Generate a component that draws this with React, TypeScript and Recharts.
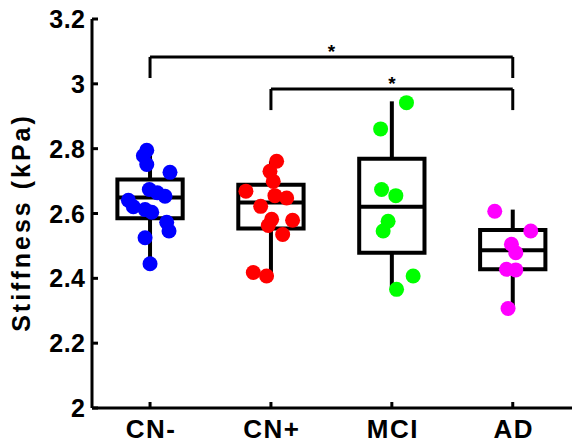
import React from 'react';
import {
  ComposedChart,
  Scatter,
  XAxis,
  YAxis,
  ReferenceArea,
  ReferenceLine,
  ReferenceDot,
} from 'recharts';

const groups = ['CN-', 'CN+', 'MCI', 'AD'];
const colors = ['#0000ff', '#ff0000', '#00ff00', '#ff00ff'];
const yTicks = [2, 2.2, 2.4, 2.6, 2.8, 3, 3.2];

// stiffness (kPa) per subject, with the horizontal jitter used in the figure
const cnMinus = [2.795, 2.778, 2.751, 2.727, 2.674, 2.664, 2.653, 2.641, 2.621, 2.612, 2.604, 2.573, 2.546, 2.525, 2.445];
const cnMinusJitter = [-0.027, -0.055, -0.027, 0.165, -0.006, 0.06, 0.124, -0.179, -0.138, -0.041, 0.014, 0.138, 0.157, -0.041, 0];
const cnPlus = [2.761, 2.73, 2.699, 2.669, 2.655, 2.648, 2.622, 2.582, 2.579, 2.563, 2.535, 2.418, 2.407];
const cnPlusJitter = [0.047, -0.008, 0.019, -0.207, 0.033, 0.13, -0.085, 0.006, 0.179, -0.022, 0.097, -0.146, -0.036];
const mci = [2.942, 2.861, 2.674, 2.655, 2.576, 2.546, 2.407, 2.366];
const mciJitter = [0.121, -0.093, -0.085, 0.033, -0.031, -0.072, 0.176, 0.039];
const ad = [2.607, 2.546, 2.505, 2.479, 2.428, 2.426, 2.307];
const adJitter = [-0.149, 0.149, -0.011, 0.025, -0.052, 0.025, -0.039];

// box plot summary
const q1 = [2.585, 2.554, 2.479, 2.428];
const median = [2.649, 2.634, 2.621, 2.487];
const q3 = [2.705, 2.689, 2.769, 2.549];
const whiskerLow = [2.445, 2.407, 2.366, 2.307];
const whiskerHigh = [2.795, 2.761, 2.946, 2.612];

// significance brackets: group indices, bar level, end level, star level
const bracketFrom = [1, 2];
const bracketTo = [4, 4];
const bracketTop = [3.083, 2.984];
const bracketEnd = [3.018, 2.919];
const starLevel = [3.1, 3.003];

const values = [cnMinus, cnPlus, mci, ad];
const jitters = [cnMinusJitter, cnPlusJitter, mciJitter, adJitter];

const FONT = '"Liberation Sans", Arial, Helvetica, sans-serif';
const HALF = 0.27;

const LeftTick = ({ x, y, payload }: any) => (
  <g>
    <line x1={x + 7} x2={x + 13} y1={y} y2={y} stroke="#000" strokeWidth={3} />
    <text x={x} y={y} dx={0.5} dy={9} textAnchor="end" fontFamily={FONT} fontWeight="bold" fontSize={25} letterSpacing={0.5} fill="#000">
      {payload.value}
    </text>
  </g>
);

const BottomTick = ({ x, y, payload }: any) => (
  <g>
    <line x1={x} x2={x} y1={y} y2={y - 6} stroke="#000" strokeWidth={3} />
    <text x={x} y={y + 30} dx={1} textAnchor="middle" fontFamily={FONT} fontWeight="bold" fontSize={26} letterSpacing={1.5} fill="#000">
      {groups[payload.value - 1]}
    </text>
  </g>
);

const TopTick = ({ x, y }: any) => (
  <line x1={x} x2={x} y1={y} y2={y + 6} stroke="#000" strokeWidth={3} />
);

const RightTick = ({ x, y }: any) => (
  <line x1={x} x2={x - 6} y1={y} y2={y} stroke="#000" strokeWidth={3} />
);

const Dot = (color: string) => (props: any) => (
  <circle cx={props.cx} cy={props.cy} r={7.5} fill={color} />
);

export default function App() {
  const series = values.map((vals, g) =>
    vals.map((v, i) => ({ x: g + 1 + jitters[g][i], y: v }))
  );

  return (
    <div style={{ position: 'absolute', left: 0, top: 0, background: '#fff' }}>
      <ComposedChart width={574} height={443} margin={{ top: 19, right: 2, bottom: 0, left: 0 }}>
        <XAxis
          dataKey="x"
          type="number"
          domain={[0.52, 4.49]}
          ticks={[1, 2, 3, 4]}
          allowDataOverflow
          height={35}
          tickSize={0}
          tickMargin={0}
          tickLine={false}
          axisLine={{ stroke: '#000', strokeWidth: 3 }}
          tick={<BottomTick />}
        />
        <XAxis
          xAxisId="top"
          orientation="top"
          type="number"
          domain={[0.52, 4.49]}
          ticks={[1, 2, 3, 4]}
          allowDataOverflow
          height={0}
          tickSize={0}
          tickMargin={0}
          tickLine={false}
          axisLine={{ stroke: '#000', strokeWidth: 3 }}
          tick={<TopTick />}
        />
        <YAxis
          dataKey="y"
          type="number"
          domain={[2, 3.2]}
          ticks={yTicks}
          allowDataOverflow
          width={92}
          tickSize={0}
          tickMargin={7}
          tickLine={false}
          axisLine={{ stroke: '#000', strokeWidth: 3 }}
          tick={<LeftTick />}
          label={{
            value: 'Stiffness (kPa)',
            angle: -90,
            position: 'center',
            dx: -25,
            dy: 9,
            fill: '#000',
            fontFamily: FONT,
            fontWeight: 'bold',
            fontSize: 25,
            letterSpacing: 3,
          }}
        />
        <YAxis
          yAxisId="right"
          orientation="right"
          type="number"
          domain={[2, 3.2]}
          ticks={yTicks}
          allowDataOverflow
          width={0}
          tickSize={0}
          tickMargin={0}
          tickLine={false}
          axisLine={{ stroke: '#000', strokeWidth: 3 }}
          tick={<RightTick />}
        />

        {groups.map((g, i) => (
          <ReferenceArea
            key={`box-${g}`}
            x1={i + 1 - HALF}
            x2={i + 1 + HALF}
            y1={q1[i]}
            y2={q3[i]}
            fill="none"
            fillOpacity={0}
            stroke="#000"
            strokeWidth={4}
            strokeOpacity={1}
          />
        ))}
        {groups.map((g, i) => (
          <ReferenceLine
            key={`med-${g}`}
            segment={[{ x: i + 1 - HALF, y: median[i] }, { x: i + 1 + HALF, y: median[i] }]}
            stroke="#000"
            strokeWidth={4}
          />
        ))}
        {groups.map((g, i) => (
          <ReferenceLine
            key={`wh-${g}`}
            segment={[{ x: i + 1, y: q3[i] }, { x: i + 1, y: whiskerHigh[i] }]}
            stroke="#000"
            strokeWidth={4}
          />
        ))}
        {groups.map((g, i) => (
          <ReferenceLine
            key={`wl-${g}`}
            segment={[{ x: i + 1, y: q1[i] }, { x: i + 1, y: whiskerLow[i] }]}
            stroke="#000"
            strokeWidth={4}
          />
        ))}

        {bracketFrom.map((from, b) => (
          <ReferenceLine
            key={`br-${b}`}
            segment={[{ x: from, y: bracketTop[b] }, { x: bracketTo[b], y: bracketTop[b] }]}
            stroke="#000"
            strokeWidth={3}
          />
        ))}
        {bracketFrom.map((from, b) => (
          <ReferenceLine
            key={`bl-${b}`}
            segment={[{ x: from, y: bracketTop[b] }, { x: from, y: bracketEnd[b] }]}
            stroke="#000"
            strokeWidth={3}
          />
        ))}
        {bracketFrom.map((from, b) => (
          <ReferenceLine
            key={`bt-${b}`}
            segment={[{ x: bracketTo[b], y: bracketTop[b] }, { x: bracketTo[b], y: bracketEnd[b] }]}
            stroke="#000"
            strokeWidth={3}
          />
        ))}
        {bracketFrom.map((from, b) => (
          <ReferenceDot
            key={`st-${b}`}
            x={(from + bracketTo[b]) / 2}
            y={starLevel[b]}
            r={0}
            fill="none"
            stroke="none"
            label={{ value: '*', position: 'center', fill: '#000', fontFamily: FONT, fontWeight: 'bold', fontSize: 19 }}
          />
        ))}

        {series.map((data, g) => (
          <Scatter
            key={groups[g]}
            data={data}
            fill={colors[g]}
            shape={Dot(colors[g])}
            isAnimationActive={false}
          />
        ))}
      </ComposedChart>
    </div>
  );
}
